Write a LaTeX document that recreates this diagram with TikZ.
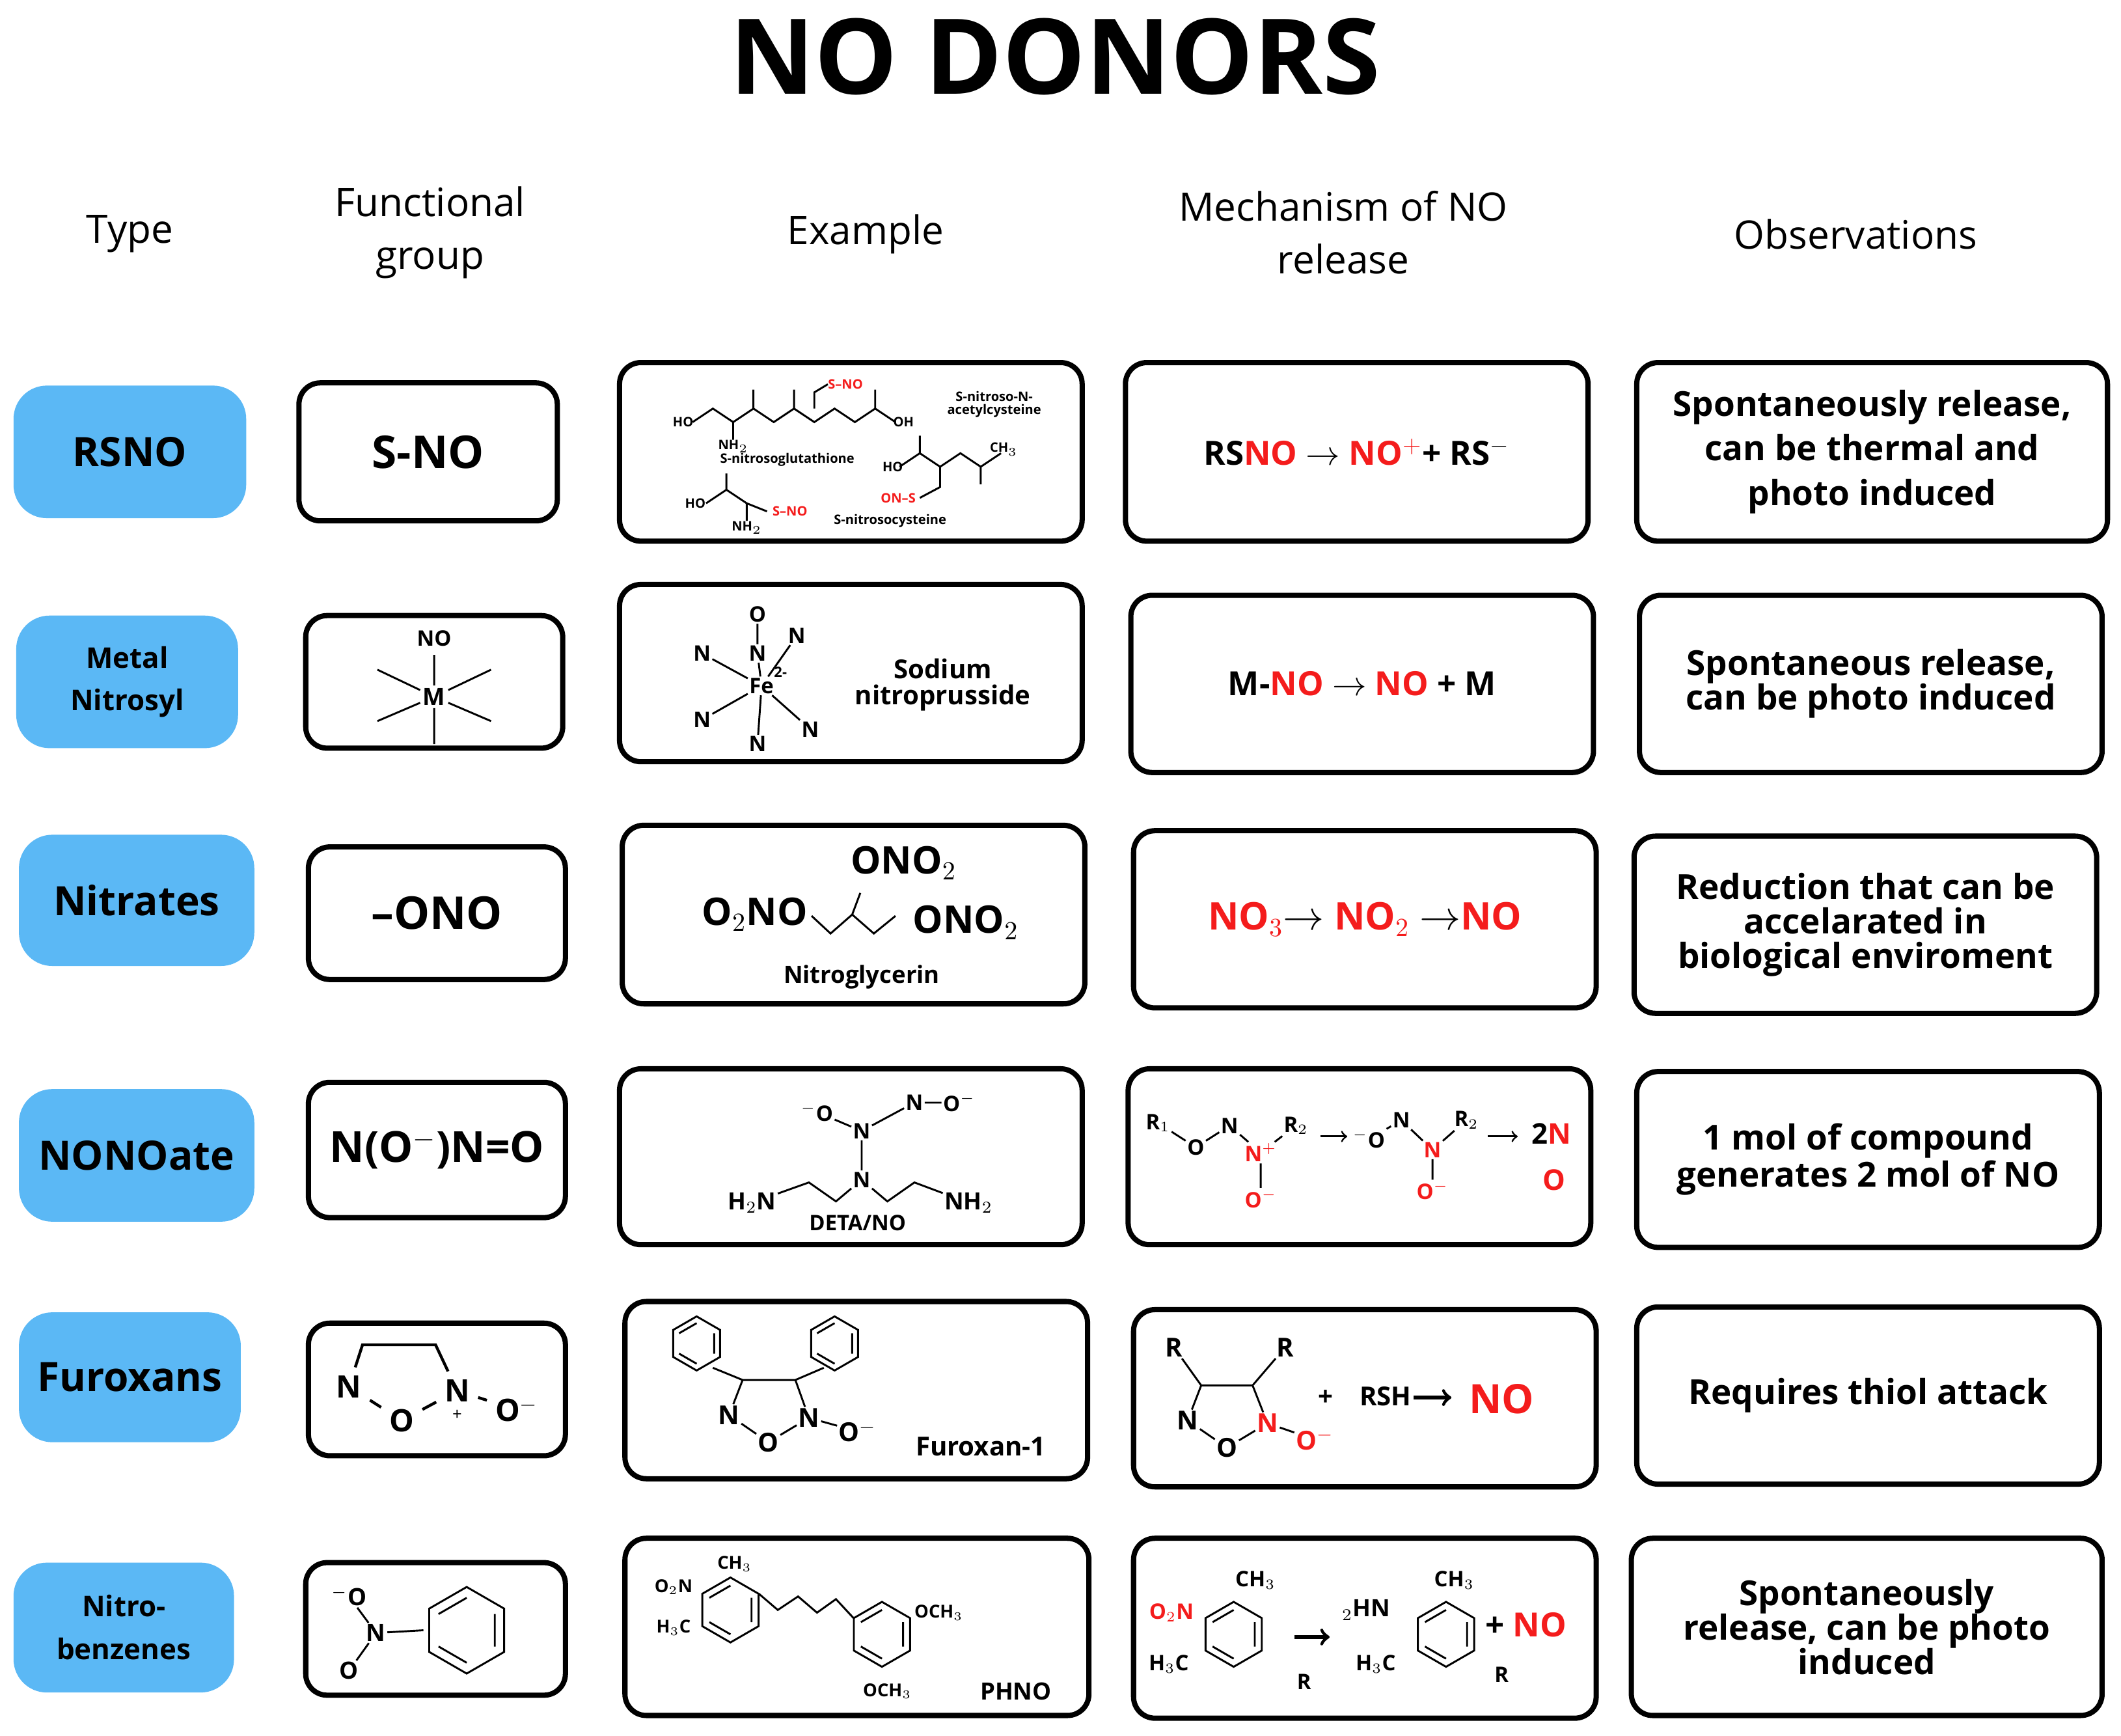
\documentclass[tikz,border=0pt]{standalone}
\usepackage{fontspec}
\setmainfont{Open Sans}
\usetikzlibrary{positioning}
\definecolor{typeblue}{HTML}{5BB8F5}
\definecolor{nored}{HTML}{F41C1C}
\newcommand\fs[1]{\fontsize{#1}{#1}\selectfont}
\newcommand\rd[1]{\textcolor{nored}{#1}}
% box from corner to corner, as a named node
\newcommand\cell[7]{\node[#2, minimum width={(#5-#3)*0.2mm}, minimum height={(#6-#4)*0.2mm}]
  (#1) at ({(#3+#5)/2},{(#4+#6)/2}) {#7};}
% benzene ring: centre x, y, radius
\newcommand\benz[3]{\draw[chem] (#1,#2) +(30:#3) -- +(90:#3) -- +(150:#3) -- +(210:#3) -- +(270:#3) -- +(330:#3) -- cycle;
  \draw[chem] (#1,#2) +(90:#3*0.75) -- +(150:#3*0.75) +(210:#3*0.75) -- +(270:#3*0.75) +(330:#3*0.75) -- +(30:#3*0.75);}
\tikzset{
  typebox/.style={fill=typeblue, rounded corners=14pt, align=center, inner sep=0pt, font=\bfseries\fs{17}},
  cellbox/.style={draw, line width=2.2pt, rounded corners=9pt, align=center, inner sep=0pt},
  head/.style={align=center, font=\fs{16.5}\linespread{1.35}\selectfont},
  obs/.style={align=center, font=\bfseries\fs{14.5}},
  mech/.style={font=\bfseries\fs{14}},
  chem/.style={line width=0.8pt},
  tiny/.style={font=\bfseries\fs{5.5}, inner sep=0.5pt},
  small/.style={font=\bfseries\fs{9}, inner sep=0.5pt},
}
\begin{document}
\begin{tikzpicture}[x=0.2mm, y=-0.2mm]
  \useasboundingbox (0,0) rectangle (1568,1283);

  % title and headings
  \node[font=\bfseries\fs{44}] (title) at (780,42) {NO DONORS};
  \node[head] (h1) at (96,173) {Type};
  \node[head] (h2) at (318,172) {Functional\\group};
  \node[head] (h3) at (640,173) {Example};
  \node[head] (h4) at (993,172) {Mechanism of NO\\release};
  \node[head] (h5) at (1372,173) {Observations};

  % type column
  \cell{t1}{typebox}{10}{285}{182}{383}{RSNO}
  \cell{t2}{typebox, font=\bfseries\fs{12}\linespread{1.5}\selectfont}{12}{455}{176}{553}{Metal\\Nitrosyl}
  \cell{t3}{typebox}{14}{617}{188}{714}{Nitrates}
  \cell{t4}{typebox}{14}{805}{188}{903}{NONOate}
  \cell{t5}{typebox}{14}{970}{178}{1066}{Furoxans}
  \cell{t6}{typebox, font=\bfseries\fs{12}\linespread{1.5}\selectfont}{10}{1155}{173}{1251}{Nitro-\\benzenes}

  % functional group column
  \cell{f1}{cellbox, font=\bfseries\fs{19}}{221}{283}{412}{385}{S-NO}
  \cell{f2}{cellbox}{226}{455}{416}{553}{}
  \cell{f3}{cellbox, font=\bfseries\fs{19}}{228}{626}{418}{724}{--ONO}
  \cell{f4}{cellbox, font=\bfseries\fs{18}}{228}{800}{418}{900}{N(O$^{-}$)N=O}
  \cell{f5}{cellbox}{228}{978}{418}{1076}{}
  \cell{f6}{cellbox}{226}{1155}{418}{1253}{}

  % example column
  \cell{e1}{cellbox}{458}{268}{800}{400}{}
  \cell{e2}{cellbox}{458}{432}{800}{563}{}
  \cell{e3}{cellbox}{460}{610}{802}{742}{}
  \cell{e4}{cellbox}{458}{790}{800}{920}{}
  \cell{e5}{cellbox}{462}{962}{804}{1093}{}
  \cell{e6}{cellbox}{462}{1137}{805}{1268}{}

  % mechanism column
  \cell{m1}{cellbox, mech}{832}{268}{1174}{400}{RS\rd{NO} $\rightarrow$ \rd{NO$^{+}$}+ RS$^{-}$}
  \cell{m2}{cellbox, mech}{836}{440}{1178}{571}{M-\rd{NO} $\rightarrow$ \rd{NO} + M}
  \cell{m3}{cellbox, mech, font=\bfseries\fs{16}}{838}{614}{1180}{745}{\rd{NO$_3$}$\rightarrow$ \rd{NO$_2$} $\rightarrow$\rd{NO}}
  \cell{m4}{cellbox}{834}{790}{1176}{920}{}
  \cell{m5}{cellbox}{838}{968}{1180}{1099}{}
  \cell{m6}{cellbox}{838}{1137}{1180}{1270}{}

  % observations column
  \cell{o1}{cellbox, obs, font=\bfseries\fs{14.5}\linespread{1.3}\selectfont}{1210}{268}{1558}{400}{Spontaneously release,\\can be thermal and\\photo induced}
  \cell{o2}{cellbox, obs}{1212}{440}{1554}{571}{Spontaneous release,\\can be photo induced}
  \cell{o3}{cellbox, obs}{1208}{618}{1550}{749}{Reduction that can be\\accelarated in\\biological enviroment}
  \cell{o4}{cellbox, obs}{1210}{792}{1552}{922}{1 mol of compound\\generates 2 mol of NO}
  \cell{o5}{cellbox, obs}{1210}{966}{1552}{1097}{Requires thiol attack}
  \cell{o6}{cellbox, obs}{1206}{1137}{1554}{1268}{Spontaneously\\release, can be photo\\induced}

  % row 1: S-nitrosothiols
  \draw[chem] (512,312) -- (527,302) -- (542,312) -- (557,302) -- (572,312) -- (587,302) -- (602,312) -- (617,302) -- (632,312) -- (647,302) -- (662,312);
  \draw[chem] (557,302) -- (557,288) (587,302) -- (587,288) (647,302) -- (647,288) (542,312) -- (542,325) (602,302) -- (602,290) -- (612,284);
  \node[tiny] (g1) at (505,312) {HO};
  \node[tiny] (g2) at (542,330) {NH$_2$};
  \node[tiny] (g3) at (668,312) {OH};
  \node[tiny, text=nored] (g4) at (625,284) {S--NO};
  \node[tiny] (g5) at (582,340) {S-nitrosoglutathione};
  \node[tiny, align=center] (g6) at (735,299) {S-nitroso-N-\\acetylcysteine};
  \draw[chem] (665,345) -- (680,335) -- (695,345) -- (710,335) -- (725,345) -- (740,335) (680,335) -- (680,322) (725,345) -- (725,358) (695,345) -- (695,360) -- (680,368);
  \node[tiny] (g7) at (660,345) {HO};
  \node[tiny] (g8) at (742,332) {CH$_3$};
  \node[tiny, text=nored] (g9) at (664,368) {ON--S};
  \draw[chem] (522,372) -- (537,362) -- (552,372) -- (567,378) (537,362) -- (537,350) (552,372) -- (552,385);
  \node[tiny] (c1) at (514,372) {HO};
  \node[tiny] (c2) at (552,390) {NH$_2$};
  \node[tiny, text=nored] (c3) at (584,378) {S--NO};
  \node[tiny] (c4) at (658,385) {S-nitrosocysteine};

  % row 2: metal nitrosyl
  \node[font=\bfseries\fs{10}, inner sep=1pt] (fm) at (321,515) {M};
  \node[font=\bfseries\fs{9}] (fno) at (321,472) {NO};
  \draw[chem] (fm) -- (fno) (fm) -- (321,550) (fm) -- (279,495) (fm) -- (363,495) (fm) -- (279,533) (fm) -- (363,533);
  \node[small] (fe) at (563,507) {Fe};
  \node[small, font=\bfseries\fs{6}] (fec) at (577,497) {2-};
  \node[small] (n1) at (560,483) {N};
  \node[small] (o1x) at (560,454) {O};
  \node[small] (n2) at (560,550) {N};
  \node[small] (n3) at (519,483) {N};
  \node[small] (n4) at (519,532) {N};
  \node[small] (n5) at (589,470) {N};
  \node[small] (n6) at (599,539) {N};
  \draw[chem] (fe) -- (n1) (n1) -- (o1x) (fe) -- (n2) (fe) -- (n3) (fe) -- (n4) (fe) -- (n5) (fe) -- (n6);
  \node[font=\bfseries\fs{11}, align=center] (sn) at (697,506) {Sodium\\nitroprusside};

  % row 3: nitroglycerin
  \node[font=\bfseries\fs{16}] (ng1) at (668,638) {ONO$_2$};
  \node[font=\bfseries\fs{16}] (ng2) at (558,676) {O$_2$NO};
  \node[font=\bfseries\fs{16}] (ng3) at (714,682) {ONO$_2$};
  \draw[chem] (600,677) -- (614,690) -- (630,676) -- (646,690) -- (662,677) (630,676) -- (636,660);
  \node[font=\bfseries\fs{10}] (ngn) at (637,722) {Nitroglycerin};

  % row 4: DETA/NO and diazeniumdiolate
  \node[small] (d1) at (604,822) {$^{-}$O};
  \node[small] (d2) at (637,836) {N};
  \node[small] (d3) at (676,815) {N};
  \node[small] (d4) at (709,815) {O$^{-}$};
  \node[small] (d5) at (637,872) {N};
  \node[small, font=\bfseries\fs{10}] (d6) at (556,889) {H$_2$N};
  \node[small, font=\bfseries\fs{10}] (d7) at (716,889) {NH$_2$};
  \draw[chem] (d1) -- (d2) -- (d3) -- (d4) (d2) -- (d5) (d5) -- (618,888) -- (598,874) -- (d6) (d5) -- (656,888) -- (676,874) -- (d7);
  \node[small] (dn) at (634,904) {DETA/NO};
  \node[small] (r1) at (856,830) {R$_1$};
  \node[small] (r2) at (884,848) {O};
  \node[small] (r3) at (909,832) {N};
  \node[small, text=nored] (r4) at (932,852) {N$^{+}$};
  \node[small] (r5) at (958,832) {R$_2$};
  \node[small, text=nored] (r6) at (932,886) {O$^{-}$};
  \draw[chem] (r1) -- (r2) -- (r3) -- (r4) -- (r5) (r4) -- (r6);
  \node[small] (r7) at (1012,842) {$^{-}$O};
  \node[small] (r8) at (1036,828) {N};
  \node[small, text=nored] (r9) at (1059,850) {N};
  \node[small] (r10) at (1084,828) {R$_2$};
  \node[small, text=nored] (r11) at (1059,880) {O$^{-}$};
  \draw[chem] (r7) -- (r8) -- (r9) -- (r10) (r9) -- (r11);
  \draw[chem, ->] (976,840) -- (996,840);
  \draw[chem, ->] (1100,840) -- (1122,840);
  \node[font=\bfseries\fs{12}] (r12) at (1147,838) {2\rd{N}};
  \node[font=\bfseries\fs{12}, text=nored] (r13) at (1149,872) {O};

  % row 5: furoxans
  \node[font=\bfseries\fs{13}] (fa) at (258,1025) {N};
  \node[font=\bfseries\fs{13}] (fb) at (297,1050) {O};
  \node[font=\bfseries\fs{13}] (fc) at (338,1028) {N};
  \node[font=\bfseries\fs{13}] (fd) at (382,1042) {O$^{-}$};
  \node[font=\fs{7}] (fe5) at (338,1046) {+};
  \draw[chem, line width=1.2pt] (fa) -- (268,994) -- (322,994) -- (fc) (fa) -- (fb) -- (fc) -- (fd);
  \benz{515}{993}{20}
  \benz{617}{993}{20}
  \node[small, font=\bfseries\fs{11}] (xa) at (539,1046) {N};
  \node[small, font=\bfseries\fs{11}] (xb) at (568,1066) {O};
  \node[small, font=\bfseries\fs{11}] (xc) at (598,1048) {N};
  \node[small, font=\bfseries\fs{11}] (xd) at (634,1058) {O$^{-}$};
  \draw[chem] (xa) -- (549,1020) -- (588,1020) -- (xc) (xa) -- (xb) -- (xc) -- (xd) (549,1020) -- (527,1011) (588,1020) -- (609,1011);
  \node[font=\bfseries\fs{11}] (fx) at (725,1069) {Furoxan-1};
  \node[small, font=\bfseries\fs{11}] (ya) at (878,1050) {N};
  \node[small, font=\bfseries\fs{11}] (yb) at (907,1070) {O};
  \node[small, font=\bfseries\fs{11}, text=nored] (yc) at (937,1052) {N};
  \node[small, font=\bfseries\fs{11}, text=nored] (yd) at (972,1064) {O$^{-}$};
  \node[small, font=\bfseries\fs{11}] (ye) at (868,996) {R};
  \node[small, font=\bfseries\fs{11}] (yf) at (950,996) {R};
  \draw[chem] (ya) -- (888,1024) -- (926,1024) -- (yc) (ya) -- (yb) -- (yc) -- (yd) (888,1024) -- (ye) (926,1024) -- (yf);
  \node[font=\bfseries\fs{11}] (yg) at (1009,1032) {+\quad RSH};
  \draw[chem, line width=1.5pt, ->] (1045,1033) -- (1073,1033);
  \node[font=\bfseries\fs{17}, text=nored] (yh) at (1110,1034) {NO};

  % row 6: nitrobenzenes
  \benz{345}{1205}{32}
  \node[small, font=\bfseries\fs{10}] (na) at (278,1207) {N};
  \node[small, font=\bfseries\fs{10}] (nb) at (258,1180) {$^{-}$O};
  \node[small, font=\bfseries\fs{10}] (nc) at (258,1235) {O};
  \draw[chem] (na) -- (313,1205) (na) -- (nb) (na) -- (nc);
  \benz{540}{1190}{24}
  \benz{652}{1208}{24}
  \draw[chem] (561,1178) -- (575,1190) -- (590,1180) -- (604,1192) -- (618,1182) -- (631,1196);
  \node[tiny, font=\bfseries\fs{7.5}] (pa) at (498,1173) {O$_2$N};
  \node[tiny, font=\bfseries\fs{7.5}] (pb) at (543,1156) {CH$_3$};
  \node[tiny, font=\bfseries\fs{7.5}] (pc) at (498,1203) {H$_3$C};
  \node[tiny, font=\bfseries\fs{7.5}] (pd) at (694,1192) {OCH$_3$};
  \node[tiny, font=\bfseries\fs{7.5}] (pe) at (656,1250) {OCH$_3$};
  \node[font=\bfseries\fs{10}] (pf) at (751,1250) {PHNO};
  \benz{912}{1208}{24}
  \benz{1069}{1208}{24}
  \node[small, text=nored] (qa) at (866,1192) {O$_2$N};
  \node[small] (qb) at (928,1168) {CH$_3$};
  \node[small] (qc) at (864,1230) {H$_3$C};
  \node[small] (qd) at (964,1243) {R};
  \draw[chem, line width=1.5pt, ->] (957,1210) -- (983,1210);
  \node[small, font=\bfseries\fs{10}] (qe) at (1010,1190) {$_2$HN};
  \node[small] (qf) at (1075,1168) {CH$_3$};
  \node[small] (qg) at (1017,1230) {H$_3$C};
  \node[small] (qh) at (1110,1238) {R};
  \node[font=\bfseries\fs{14}] (qi) at (1128,1201) {+ \rd{NO}};
\end{tikzpicture}
\end{document}
